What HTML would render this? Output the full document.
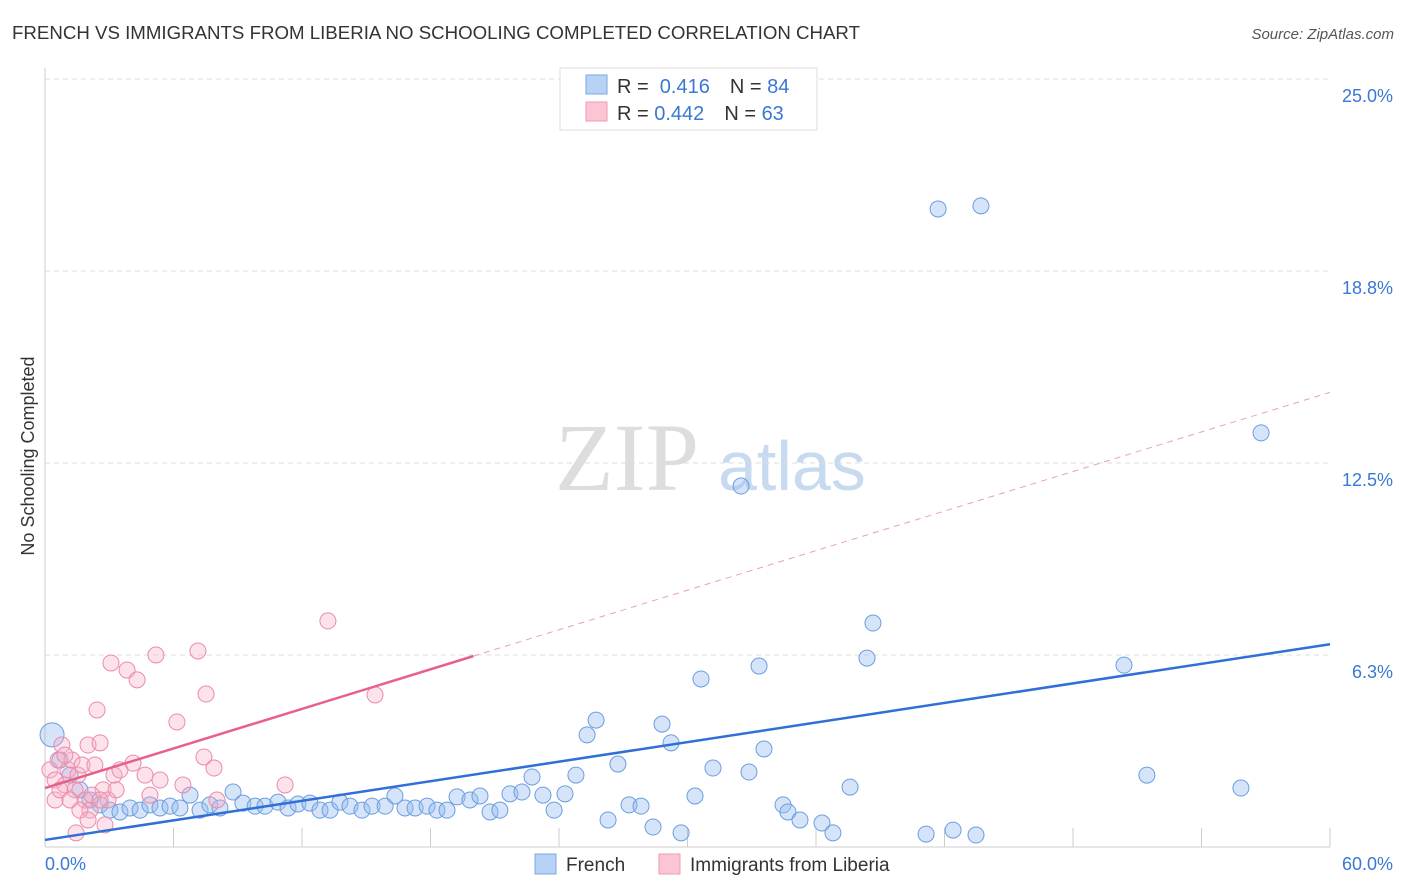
<!DOCTYPE html>
<html><head><meta charset="utf-8"><style>
body{margin:0;background:#fff;font-family:"Liberation Sans",sans-serif}
svg{display:block}
</style></head><body>
<svg id="c" width="1406" height="892">
<text x="12" y="39" font-size="18" fill="#333" textLength="848" lengthAdjust="spacingAndGlyphs">FRENCH VS IMMIGRANTS FROM LIBERIA NO SCHOOLING COMPLETED CORRELATION CHART</text>
<text x="1394" y="39" font-size="15" fill="#555" font-style="italic" text-anchor="end">Source: ZipAtlas.com</text>
<text transform="translate(34,456) rotate(-90)" font-size="18" fill="#333" text-anchor="middle">No Schooling Completed</text>
<text x="555" y="490" font-size="96" fill="#ddd" font-family="Liberation Serif">ZIP</text>
<text x="718" y="490" font-size="70" fill="#c8daf0">atlas</text>
<g id="grid"></g><g id="pts"></g><g id="lines"></g>
<g>
<rect x="560" y="68" width="257" height="62" fill="#fff" stroke="#ddd"/>
<rect x="586" y="75" width="21" height="19" fill="#b8d2f5" stroke="#7aa7e6"/>
<rect x="586" y="102" width="21" height="19" fill="#fbc5d4" stroke="#ef9ab3"/>
<text x="617" y="93" font-size="20" fill="#333">R = <tspan fill="#3a78d4">&#160;0.416</tspan><tspan dx="20">N = </tspan><tspan fill="#3a78d4">84</tspan></text>
<text x="617" y="120" font-size="20" fill="#333">R = <tspan fill="#3a78d4">0.442</tspan><tspan dx="20">N = </tspan><tspan fill="#3a78d4">63</tspan></text>
</g>
<g>
<rect x="535" y="854" width="21" height="20" fill="#b8d2f5" stroke="#7aa7e6"/>
<text x="566" y="871" font-size="19" fill="#333">French</text>
<rect x="659" y="854" width="21" height="20" fill="#fbc5d4" stroke="#ef9ab3"/>
<text x="690" y="871" font-size="19" fill="#333">Immigrants from Liberia</text>
</g>
</svg>
<script>
const yTicks=[6.25,12.5,18.75,25];
const yTickLabels=["6.3%","12.5%","18.8%","25.0%"];
const xTickLabels=["0.0%","60.0%"];
const bluePx=[[52,735],[60,760],[70,775],[80,790],[90,800],[100,805],[110,810],[120,812],[130,808],[140,810],[150,805],[160,808],[170,806],[180,808],[190,795],[200,810],[210,805],[220,808],[233,792],[243,803],[255,806],[265,806],[278,802],[288,808],[298,804],[310,803],[320,810],[330,810],[340,802],[350,806],[362,810],[372,806],[385,806],[395,796],[405,808],[415,808],[427,806],[437,810],[447,810],[457,797],[470,800],[480,796],[490,812],[500,810],[510,794],[522,792],[532,777],[543,795],[554,810],[565,794],[576,775],[587,735],[596,720],[608,820],[618,764],[629,805],[641,806],[653,827],[662,724],[671,743],[681,833],[695,796],[701,679],[713,768],[741,486],[749,772],[759,666],[764,749],[783,805],[788,812],[800,820],[822,823],[833,833],[850,787],[867,658],[873,623],[926,834],[938,209],[953,830],[976,835],[981,206],[1124,665],[1147,775],[1241,788],[1261,433]];
const pinkPx=[[50,770],[55,780],[58,760],[62,745],[65,785],[68,770],[72,760],[75,790],[78,775],[82,765],[85,800],[88,745],[90,810],[95,765],[97,710],[100,743],[103,790],[105,825],[108,800],[111,663],[114,775],[116,790],[120,770],[127,670],[133,763],[137,680],[145,775],[150,795],[156,655],[160,780],[177,722],[183,785],[198,651],[204,757],[206,694],[214,768],[217,800],[285,785],[328,621],[375,695],[76,833],[55,800],[60,790],[70,800],[80,810],[92,795],[65,755],[88,820],[100,800]];
const blueX=bluePx.map(p=>+((p[0]-45)/21.417).toFixed(2)), blueY=bluePx.map(p=>+((847-p[1])/30.72).toFixed(2));
const pinkX=pinkPx.map(p=>+((p[0]-45)/21.417).toFixed(2)), pinkY=pinkPx.map(p=>+((847-p[1])/30.72).toFixed(2));
const blueTrend=[0.23,6.6], pinkTrend=[1.92,14.8];
const X=v=>45+v*21.417, Y=v=>847-v*30.72;
const NS="http://www.w3.org/2000/svg";
function mk(par,tag,at){const e=document.createElementNS(NS,tag);for(const k in at)e.setAttribute(k,at[k]);document.getElementById(par).appendChild(e);return e;}
yTicks.forEach((t,i)=>{
 const l=mk('grid','line',{x1:45,x2:1330,y1:Y(t),y2:Y(t),stroke:'#ddd','stroke-dasharray':'5,4'});
 
 
 const tx=mk('grid','text',{x:1393,y:Y(t)+23,'font-size':18,fill:'#3a78d4','text-anchor':'end'});tx.textContent=yTickLabels[i];
 
 
});
const ax=mk('grid','line',{x1:45,x2:45,y1:68,y2:847,stroke:'#ccc'});


const bx=mk('grid','line',{x1:45,x2:1330,y1:847,y2:847,stroke:'#ccc'});


for(let i=0;i<=10;i++){const tk=mk('grid','line',{x1:X(i*6),x2:X(i*6),y1:828,y2:847,stroke:'#ccc'});
 
 }
[[0,'start',45],[60,'end',1393]].forEach((a,i)=>{const t=mk('grid','text',{x:a[2],y:870,'font-size':18,fill:'#3a78d4','text-anchor':a[1]});t.textContent=xTickLabels[i];
 
 });
blueX.forEach((v,i)=>{const c=mk('pts','circle',{cx:X(v),cy:Y(blueY[i]),r:i==0?12:8,fill:'rgba(150,188,238,0.4)',stroke:'#6b9ee0','stroke-width':1});
 
 });
pinkX.forEach((v,i)=>{const c=mk('pts','circle',{cx:X(v),cy:Y(pinkY[i]),r:8,fill:'rgba(245,175,198,0.35)',stroke:'#ec8aaa','stroke-width':1});
 
 });
const bl=mk('lines','line',{x1:X(0),y1:Y(blueTrend[0]),x2:X(60),y2:Y(blueTrend[1]),stroke:'#2f6fd6','stroke-width':2.5});


const pe=(pinkTrend[1]-pinkTrend[0])/60;
const pl=mk('lines','line',{x1:X(0),y1:Y(pinkTrend[0]),x2:X(20),y2:Y(pinkTrend[0]+20*pe),stroke:'#e8608a','stroke-width':2.5});


const pd=mk('lines','line',{x1:X(20),y1:Y(pinkTrend[0]+20*pe),x2:X(60),y2:Y(pinkTrend[1]),stroke:'#e8a0b8','stroke-width':1,'stroke-dasharray':'6,5'});


</script>
</body></html>
